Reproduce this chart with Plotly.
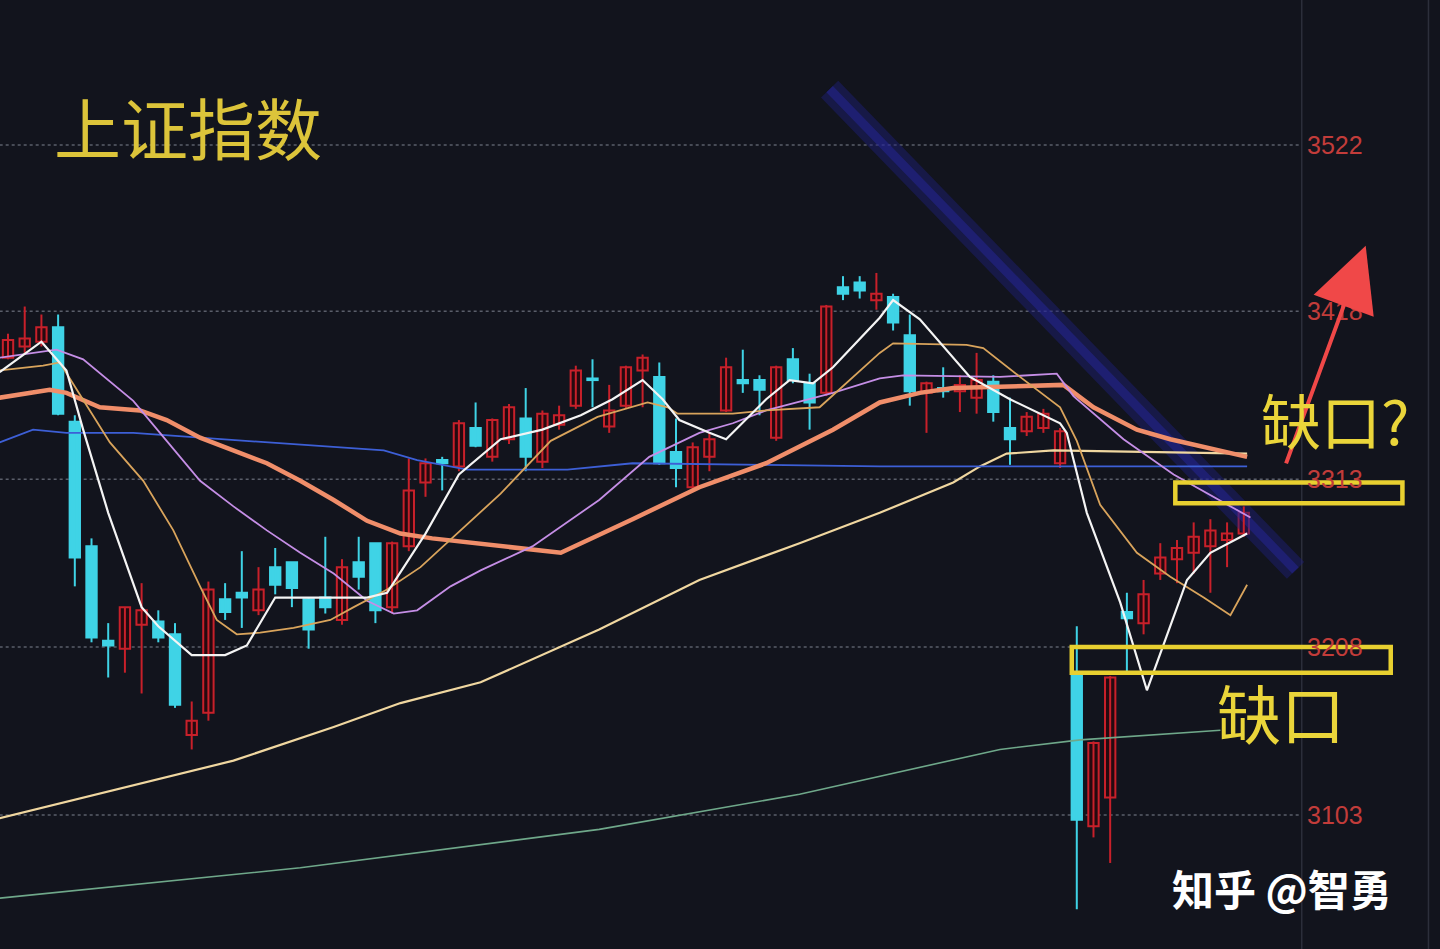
import plotly.graph_objects as go

# ---------------- data ----------------
idx = list(range(75))
open_ = [3389, 3396, 3399, 3408, 3349, 3271, 3212, 3207, 3222, 3224, 3216, 3153, 3167, 3238, 3242, 3231, 3258, 3261, 3238, 3239,
         3225, 3261, 3273, 3233, 3271, 3311, 3325, 3321, 3345, 3327, 3338, 3351, 3324, 3347, 3359, 3376, 3346, 3359, 3381, 3377,
         3330, 3308, 3327, 3356, 3375, 3375, 3339, 3388, 3373, 3367, 3433, 3436, 3425, 3427, 3403, 3367, 3370, 3368, 3364, 3374,
         3345, 3343, 3345, 3323, 3192, 3096, 3114, 3230, 3223, 3254, 3263, 3267, 3271, 3275, 3279]
high = [3404, 3421, 3416, 3416, 3353, 3276, 3223, 3233, 3248, 3231, 3223, 3174, 3249, 3248, 3268, 3258, 3270, 3261, 3239, 3277,
        3263, 3277, 3273, 3274, 3326, 3326, 3327, 3350, 3361, 3351, 3360, 3370, 3356, 3359, 3384, 3388, 3372, 3384, 3391, 3386,
        3351, 3336, 3342, 3389, 3394, 3378, 3384, 3395, 3379, 3422, 3440, 3440, 3442, 3429, 3416, 3374, 3383, 3378, 3392, 3378,
        3364, 3355, 3357, 3345, 3221, 3149, 3190, 3242, 3250, 3273, 3275, 3286, 3288, 3286, 3296]
low = [3388, 3392, 3396, 3353, 3246, 3211, 3189, 3192, 3179, 3211, 3170, 3144, 3162, 3225, 3220, 3228, 3241, 3233, 3207, 3229,
       3222, 3244, 3223, 3229, 3268, 3302, 3306, 3318, 3333, 3324, 3335, 3318, 3320, 3344, 3357, 3358, 3342, 3357, 3358, 3322,
       3308, 3305, 3318, 3355, 3367, 3353, 3337, 3373, 3344, 3365, 3425, 3426, 3419, 3406, 3359, 3342, 3364, 3355, 3354, 3349,
       3322, 3340, 3342, 3320, 3044, 3089, 3073, 3192, 3216, 3250, 3248, 3254, 3242, 3258, 3277]
close = [3400, 3401, 3408, 3354, 3264, 3214, 3209, 3233, 3231, 3214, 3172, 3162, 3244, 3230, 3239, 3244, 3247, 3245, 3219, 3233,
         3258, 3252, 3231, 3273, 3306, 3323, 3323, 3348, 3334, 3350, 3358, 3327, 3354, 3353, 3381, 3375, 3356, 3383, 3389, 3323,
         3320, 3333, 3338, 3383, 3373, 3369, 3383, 3375, 3361, 3421, 3429, 3431, 3429, 3411, 3368, 3373, 3368, 3372, 3375, 3355,
         3338, 3352, 3354, 3343, 3100, 3148, 3189, 3226, 3241, 3264, 3270, 3277, 3281, 3279, 3292]

ma5_x = [-0.5, 2, 3.5, 4.5, 6, 8, 9, 11, 13, 14.3, 16, 19.3, 21.5, 22.7, 25, 27, 29.5, 32, 34.3, 36.2, 38, 39.2, 40.2, 42, 43,
         45.4, 46.8, 48.2, 49.4, 52.2, 53, 54.6, 57.6, 60, 63, 63.4, 64.6, 66.6, 68.2, 69, 70.6, 72, 74.2]
ma5_y = [3380, 3399, 3381, 3344, 3292, 3233, 3221, 3203, 3203, 3209, 3239, 3239, 3239, 3242, 3279, 3316, 3338, 3344, 3353, 3363,
         3375, 3363, 3350, 3342, 3338, 3363, 3375, 3373, 3383, 3414, 3425, 3413, 3377, 3363, 3348, 3342, 3292, 3236, 3181, 3204,
         3250, 3267, 3279]
ma10_x = [-0.5, 2.1, 3.1, 6.1, 8.1, 9.9, 11.5, 12.5, 13.7, 15.1, 17.1, 19.3, 20.7, 22.7, 24.7, 27.1, 29.5, 32.5, 35.3, 38.3,
          39.5, 40.1, 43.4, 45.4, 48.6, 52.2, 53, 57.4, 58.4, 60.6, 63, 64, 65.4, 67.6, 69.6, 71.6, 73.2, 74.2]
ma10_y = [3381, 3384, 3386, 3336, 3312, 3281, 3246, 3225, 3216, 3217, 3220, 3225, 3233, 3244, 3258, 3281, 3304, 3337, 3352, 3361,
          3358, 3354, 3354, 3356, 3358, 3392, 3398, 3397, 3395, 3377, 3358, 3337, 3297, 3267, 3252, 3239, 3228, 3247]
ma20_x = [-0.5, 2.9, 4.5, 7.5, 9.5, 11.5, 13.5, 15.5, 17.5, 19.5, 21.5, 23.1, 24.5, 26.5, 28.3, 31.4, 35.4, 38.4, 41.4, 43.4,
          45.4, 49.4, 52.2, 53.6, 59.4, 62.8, 63.8, 66.8, 69.8, 74.4]
ma20_y = [3389, 3394, 3388, 3362, 3337, 3312, 3296, 3281, 3267, 3254, 3237, 3229, 3231, 3246, 3256, 3271, 3300, 3327, 3342, 3348,
          3356, 3367, 3376, 3378, 3377, 3379, 3365, 3338, 3316, 3289]
ma30_x = [-0.5, 2.5, 3.5, 5.5, 7.9, 9.5, 11.5, 13.5, 15.5, 17.5, 19.5, 21.5, 23.5, 25.4, 29.5, 33.1, 37.4, 41.4, 45.4, 49.4,
          52.2, 54.6, 56.6, 59.4, 63.2, 65, 67.6, 69.6, 74.2]
ma30_y = [3364, 3369, 3367, 3358, 3356, 3350, 3339, 3331, 3323, 3312, 3300, 3287, 3279, 3276, 3271, 3267, 3288, 3308, 3323, 3344,
          3361, 3367, 3370, 3371, 3372, 3358, 3344, 3338, 3327]
ma60_x = [-0.5, 1.5, 3.5, 7.5, 11.5, 15.5, 19.5, 22.5, 24.5, 27.5, 33.5, 37.4, 45.4, 52.2, 59.4, 74.2]
ma60_y = [3336, 3344, 3342, 3342, 3339, 3336, 3333, 3331, 3325, 3319, 3319, 3323, 3322, 3321, 3321, 3321]
ma120_x = [-0.5, 13.5, 19.5, 23.5, 28.3, 35.4, 41.4, 47.4, 52.2, 56.6, 58.2, 59.8, 62.6, 74.2]
ma120_y = [3101, 3137, 3158, 3173, 3186, 3219, 3250, 3273, 3292, 3311, 3321, 3329, 3331, 3329]
ma250_x = [-0.5, 17.5, 35.4, 47.4, 59.4, 64.2, 72.6]
ma250_y = [3051, 3070, 3094, 3116, 3144, 3150, 3156]

tick_vals = [3522, 3418, 3313, 3208, 3103]
tick_text = ["3522", "3418", "3313", "3208", "3103"]

trend_x = [49.2, 77.1]
trend_y = [3557, 3256]
gap_upper_x = [69.9, 83.5]
gap_upper_y = [3298, 3311]
gap_lower_x = [63.7, 82.8]
gap_lower_y = [3192, 3208]
arrow_x = [76.5, 81.3]
arrow_y = [3322, 3459]

BG = "#12141d"
RED = "#c8202a"
CYAN = "#3fd3e6"
fig = go.Figure()

# trend line (drawn first, behind)
fig.add_trace(go.Scatter(x=trend_x, y=trend_y, mode="lines",
                         line=dict(color="rgba(32,30,125,0.45)", width=24), hoverinfo="skip"))
fig.add_trace(go.Scatter(x=trend_x, y=trend_y, mode="lines",
                         line=dict(color="rgba(40,40,165,0.45)", width=9), hoverinfo="skip"))

# candles: wicks + bodies
for up, col in [(True, RED), (False, CYAN)]:
    sel = [i for i in idx if (close[i] >= open_[i]) == up]
    wx, wy = [], []
    for i in sel:
        wx += [i, i, None]
        wy += [low[i], high[i], None]
    fig.add_trace(go.Scatter(x=wx, y=wy, mode="lines", line=dict(color=col, width=2), hoverinfo="skip"))
    base = [min(open_[i], close[i]) for i in sel]
    hgt = [max(abs(close[i] - open_[i]), 1.0) for i in sel]
    fig.add_trace(go.Bar(x=sel, y=hgt, base=base, width=0.62,
                         marker=dict(color="#250a10" if up else CYAN, line=dict(color=col, width=2)),
                         hoverinfo="skip"))

lines = [
    (ma250_x, ma250_y, "#6fa88a", 1.6),
    (ma120_x, ma120_y, "#f0d7a0", 2.2),
    (ma60_x, ma60_y, "#3d5fd6", 1.8),
    (ma30_x, ma30_y, "#f08e6a", 4.5),
    (ma20_x, ma20_y, "#c58ee6", 1.8),
    (ma10_x, ma10_y, "#d9a45c", 1.8),
    (ma5_x, ma5_y, "#f4f4f4", 2.2),
]
for xs, ys, c, w in lines:
    fig.add_trace(go.Scatter(x=xs, y=ys, mode="lines", line=dict(color=c, width=w), hoverinfo="skip"))

shapes = []
for v in tick_vals:
    shapes.append(dict(type="line", xref="x", yref="y", x0=-0.5, x1=77.4, y0=v, y1=v,
                       line=dict(color="#5a5e6a", width=1.5, dash="dot"), layer="below"))
for px in [0.904, 0.992]:
    shapes.append(dict(type="line", xref="paper", yref="paper", x0=px, x1=px, y0=0, y1=1,
                       line=dict(color="#2c2f3b", width=1.5), layer="below"))
for gx, gy in [(gap_upper_x, gap_upper_y), (gap_lower_x, gap_lower_y)]:
    shapes.append(dict(type="rect", xref="x", yref="y", x0=gx[0], x1=gx[1], y0=gy[0], y1=gy[1],
                       line=dict(color="#e8d030", width=4.5), fillcolor="rgba(0,0,0,0)"))

annotations = []
for v, t in zip(tick_vals, tick_text):
    annotations.append(dict(xref="paper", yref="y", x=0.907, y=v, text=t, showarrow=False,
                            xanchor="left", yanchor="middle", borderpad=0,
                            font=dict(family="Liberation Sans, Arial", size=25, color="#c23c3a")))
annotations.append(dict(xref="x", yref="y", x=arrow_x[1], y=arrow_y[1], ax=arrow_x[0], ay=arrow_y[0],
                        axref="x", ayref="y", text="", showarrow=True, arrowhead=2, arrowsize=3.2,
                        arrowwidth=4, arrowcolor="#f04848"))
annotations.append(dict(xref="paper", yref="paper", x=52 / 1440, y=1 - 126 / 949, text="上证指数",
                        showarrow=False, xanchor="left", yanchor="middle",
                        font=dict(family="Noto Sans CJK SC", size=67, color="#dcc43a")))
annotations.append(dict(xref="paper", yref="paper", x=1260 / 1440, y=1 - 419 / 949, text="缺口?",
                        showarrow=False, xanchor="left", yanchor="middle", borderpad=0,
                        font=dict(family="Noto Sans CJK SC", size=60, color="#ead53a")))
annotations.append(dict(xref="paper", yref="paper", x=1216 / 1440, y=1 - 711 / 949, text="缺口",
                        showarrow=False, xanchor="left", yanchor="middle", borderpad=0,
                        font=dict(family="Noto Sans CJK SC", size=64, color="#ead53a")))
annotations.append(dict(xref="paper", yref="paper", x=1170 / 1440, y=1 - 887 / 949, text="<b>知乎 @智勇</b>",
                        showarrow=False, xanchor="left", yanchor="middle",
                        font=dict(family="Noto Sans CJK SC", size=42, color="#ffffff")))

fig.update_layout(
    width=1440, height=949, margin=dict(l=0, r=0, t=0, b=0),
    paper_bgcolor=BG, plot_bgcolor=BG, showlegend=False,
    shapes=shapes, annotations=annotations, barmode="overlay",
    xaxis=dict(range=[-0.48, 85.75], visible=False, fixedrange=True),
    yaxis=dict(range=[3019.2, 3612.7], visible=False, fixedrange=True),
    hovermode=False,
)
fig.write_html("out.html", config={"displayModeBar": False},
               post_script="document.body.style.margin='0px';document.body.style.overflow='hidden';"
                           "document.body.style.background='" + BG + "';")
